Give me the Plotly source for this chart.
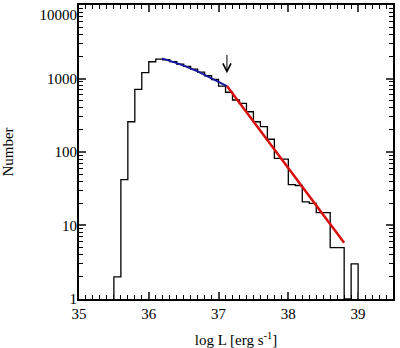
import numpy as np
import plotly.graph_objects as go

# ---- data ----
bin_left = [round(35.5 + 0.1 * i, 1) for i in range(35)]
bin_width = 0.1
counts = [2, 42, 258, 713, 1200, 1690, 1840, 1800, 1700, 1570,
          1460, 1340, 1220, 1090, 970, 790, 650, 510, 460, 353,
          258, 221, 149, 82, 80, 36, 35, 21, 20, 15,
          15, 5, 5, 0, 3]

blue_x = [36.19, 36.3, 36.4, 36.5, 36.6, 36.7, 36.8, 36.9, 37.0, 37.12]
blue_y = [1880, 1760, 1620, 1500, 1380, 1250, 1120, 1000, 900, 790]

red_x = [37.12, 38.8]
red_y = [790, 5.8]

arrow_x = 37.12
arrow_tip = 1180
arrow_tail = 2200

x_ticks = [35, 36, 37, 38, 39]
y_ticks = [1, 10, 100, 1000, 10000]
y_ticktext = ["1", "10", "100", "1000", "<br>10000"]
y_minor = [m * 10 ** d for d in range(4) for m in range(2, 10)]

# ---- build step outline of the histogram ----
floor = 1
sx, sy = [bin_left[0]], [floor]
for l, c in zip(bin_left, counts):
    v = c if c > 0 else floor
    sx += [l, l + bin_width]
    sy += [v, v]
sx.append(bin_left[-1] + bin_width)
sy.append(floor)

fig = go.Figure()
fig.add_trace(go.Scatter(x=sx, y=sy, mode="lines",
                         line=dict(color="black", width=1.3),
                         hoverinfo="skip"))
fig.add_trace(go.Scatter(x=blue_x, y=blue_y, mode="lines",
                         line=dict(color="rgb(25,25,160)", width=2)))
fig.add_trace(go.Scatter(x=red_x, y=red_y, mode="lines",
                         line=dict(color="rgb(215,15,15)", width=2.5)))

fig.add_annotation(x=arrow_x, y=np.log10(arrow_tip), ax=arrow_x, ay=np.log10(arrow_tail),
                   xref="x", yref="y", axref="x", ayref="y", text="",
                   showarrow=True, arrowhead=5, arrowsize=1.6, arrowwidth=1,
                   arrowcolor="black")

font = dict(family="Liberation Serif", size=15, color="black")

fig.update_layout(
    width=400, height=348,
    margin=dict(l=79, r=7, t=5, b=49),
    paper_bgcolor="white", plot_bgcolor="white",
    showlegend=False,
    font=font,
    xaxis=dict(range=[35, 39.5], tickvals=x_ticks, ticks="inside", ticklen=7,
               tickwidth=1.5, showline=True, linecolor="black", linewidth=2,
               mirror="allticks", showgrid=False, zeroline=False, automargin=False,
               minor=dict(tick0=35, dtick=0.1, ticks="inside", ticklen=4, tickwidth=1.2,
                          tickcolor="black", showgrid=False),
               title=dict(text="log L [erg s<sup>-1</sup>]", font=font, standoff=14),
               tickfont=font),
    yaxis=dict(type="log", range=[-0.0005, 4.0005], tickvals=y_ticks, ticktext=y_ticktext,
               ticks="inside", ticklen=7, tickwidth=1.5, showline=True,
               linecolor="black", linewidth=2, mirror="allticks", showgrid=False,
               zeroline=False, ticklabelstandoff=-3, ticklabeloverflow="allow",
               automargin=False,
               minor=dict(tickvals=y_minor, ticks="inside", ticklen=4, tickwidth=1.2,
                          tickcolor="black", showgrid=False),
               title=dict(text="Number", font=font, standoff=22),
               tickfont=font),
)

fig.write_html("out.html")
